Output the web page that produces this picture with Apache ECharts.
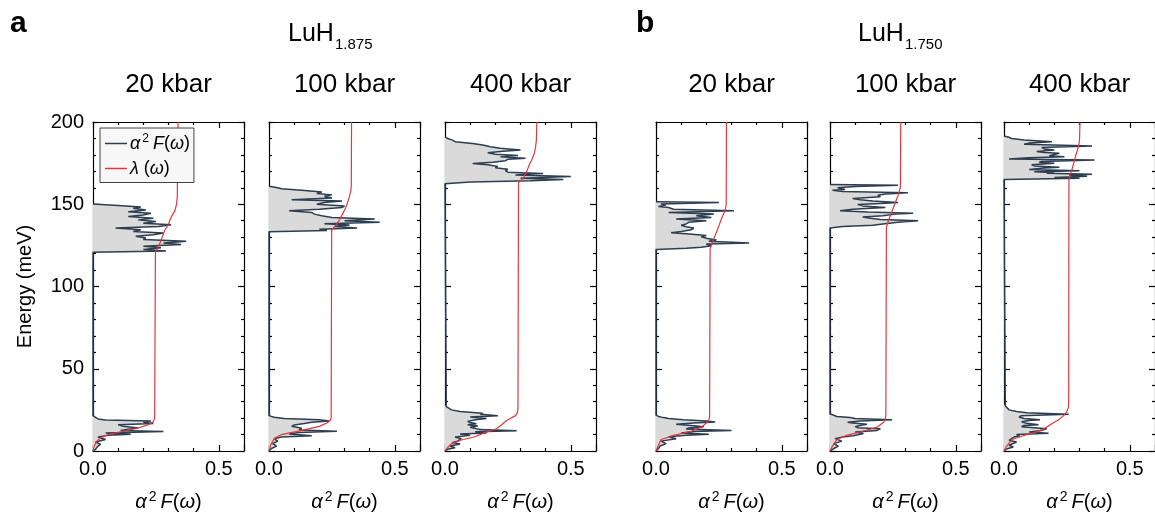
<!DOCTYPE html>
<html><head><meta charset="utf-8">
<script src="https://cdn.jsdelivr.net/npm/echarts@6/dist/echarts.min.js"></script>
<style>html,body{margin:0;padding:0;background:#fff}#c{width:1155px;height:512px}</style>
</head><body><div id="c"></div>
<script>
const FONT = '"Liberation Sans", Arial, Helvetica, sans-serif';

// ---------- labels ----------
const panelLetters = ['a', 'b'];
const compounds = [['LuH', '1.875'], ['LuH', '1.750']];
const pressureLabels = ['20 kbar', '100 kbar', '400 kbar', '20 kbar', '100 kbar', '400 kbar'];
const xTickValues = [0.0, 0.5];
const yTickValues = [0, 50, 100, 150, 200];
const yAxisTitle = 'Energy (meV)';

// ---------- data: [energy (meV), value] ----------
// LuH1.875, 20 kbar
const a2F_a20 = [[0,0],[1,0.01],[2,0.013],[3,0.02],[4,0.03],[5.5,0.01],[7,0.05],[8.5,0.02],[9.5,0.06],[10.2,0.15],[11,0.05],[11.8,0.28],[12.5,0.11],[13.3,0.14],[14,0.18],[15,0.12],[16,0.1],[16.7,0.24],[17.5,0.2],[18.2,0.23],[18.8,0.05],[19.5,0.02],[20.5,0.01],[21.5,0],
 [120.8,0],[121.6,0.29],[122.5,0.2],[123.5,0.27],[124.5,0.2],[125.5,0.35],[126.5,0.28],[127.5,0.37],[128.5,0.2],[129.5,0.21],[130.5,0.17],[131.5,0.24],[132.5,0.28],[133.5,0.16],[134.5,0.19],[135.5,0.09],[136.5,0.26],[137.5,0.31],[138.5,0.2],[139.5,0.25],[140.5,0.18],[141.5,0.24],[142.5,0.14],[143.5,0.2],[144.5,0.23],[145.5,0.14],[146.5,0.21],[147.5,0.16],[148.3,0.19],[149.2,0.1],[150.2,0]];
const lam_a20 = [[0,0],[3,0.005],[6,0.015],[8,0.03],[10,0.06],[12,0.12],[14,0.18],[16,0.22],[18,0.24],[20,0.245],[121,0.248],[123,0.255],[126,0.265],[130,0.275],[134,0.285],[138,0.3],[142,0.31],[146,0.325],[150,0.332],[155,0.335],[200,0.338]];

// LuH1.875, 100 kbar
const a2F_a100 = [[0,0],[1.5,0.01],[3,0.03],[4.5,0.015],[6,0.035],[7.5,0.02],[8.5,0.05],[9.3,0.17],[10.3,0.08],[11.2,0.12],[12,0.27],[12.8,0.12],[13.8,0.13],[15,0.09],[15.8,0.1],[16.7,0.14],[17.5,0.17],[18.3,0.24],[19,0.2],[19.7,0.06],[20.5,0.02],[21.5,0],
 [133.3,0],[134,0.23],[134.8,0.2],[135.6,0.35],[136.5,0.26],[137.4,0.32],[138.2,0.22],[139,0.44],[140,0.3],[141,0.42],[142,0.25],[143,0.21],[144,0.18],[145,0.17],[146,0.08],[147,0.2],[148,0.29],[149,0.3],[150,0.19],[151,0.22],[152,0.29],[152.8,0.09],[153.8,0.25],[154.8,0.22],[155.7,0.25],[156.6,0.19],[157.5,0.21],[158.5,0.13],[159.4,0.05],[160.2,0.03],[161,0]];
const lam_a100 = [[0,0],[3,0.005],[6,0.015],[8,0.025],[10,0.05],[12.5,0.13],[15,0.2],[17,0.23],[18.5,0.243],[20,0.247],[134,0.249],[136,0.258],[138,0.268],[141,0.282],[144,0.292],[147,0.302],[150,0.31],[154,0.318],[158,0.325],[161,0.327],[200,0.328]];

// LuH1.875, 400 kbar
const a2F_a400 = [[0,0],[1,0.01],[2,0.04],[3,0.02],[4.3,0.06],[5.2,0.03],[6,0.05],[7.5,0.065],[8.5,0.04],[9.5,0.1],[10.3,0.06],[11,0.165],[11.7,0.12],[12.3,0.285],[13,0.14],[13.7,0.145],[14.5,0.1],[15.2,0.13],[16,0.09],[16.6,0.125],[17.3,0.1],[18,0.09],[19,0.12],[19.8,0.165],[20.6,0.1],[21.5,0.21],[22.3,0.14],[23,0.15],[24,0.06],[25,0.025],[26,0.015],[27,0.005],[28,0],
 [162.5,0],[163.5,0.1],[164.3,0.34],[165,0.47],[165.8,0.3],[166.8,0.5],[167.8,0.28],[168.7,0.39],[169.5,0.25],[170.5,0.24],[171.3,0.25],[172.2,0.2],[173,0.21],[174,0.17],[174.8,0.11],[175.6,0.19],[176.5,0.24],[177.3,0.25],[178,0.32],[178.8,0.22],[179.6,0.29],[180.4,0.2],[181.3,0.17],[182.2,0.23],[183,0.3],[184,0.22],[185,0.18],[186,0.15],[187,0.11],[188,0.04],[189,0.03],[190,0.01],[191,0]];
const lam_a400 = [[0,0],[2,0.01],[4.3,0.025],[6.7,0.065],[8.5,0.115],[11.5,0.165],[13.5,0.205],[16,0.225],[18.5,0.245],[21.5,0.28],[23.5,0.288],[26,0.29],[163,0.292],[165,0.305],[167,0.315],[170,0.325],[174,0.335],[177,0.345],[181,0.355],[185,0.36],[189,0.363],[200,0.365]];

// LuH1.750, 20 kbar
const a2F_b20 = [[0,0],[1.5,0.01],[3,0.016],[4.5,0.04],[6,0.02],[7.5,0.08],[8.7,0.05],[9.5,0.12],[10.2,0.21],[11,0.1],[11.8,0.15],[12.5,0.3],[13.3,0.12],[14,0.13],[14.7,0.19],[15.5,0.14],[16.3,0.08],[17,0.15],[17.6,0.235],[18.3,0.2],[19,0.11],[19.7,0.05],[20.3,0.03],[21,0.01],[21.8,0],
 [122.5,0],[123.3,0.12],[123.8,0.18],[124.8,0.22],[125.8,0.2],[126.5,0.37],[127.5,0.21],[128.3,0.24],[129.3,0.2],[130.2,0.18],[131,0.2],[132,0.12],[132.7,0.06],[133.5,0.1],[134.5,0.14],[135.5,0.15],[136.3,0.12],[137.2,0.1],[138,0.12],[139,0.13],[140,0.2],[141,0.08],[142,0.22],[143,0.16],[144,0.23],[145,0.05],[146,0.31],[147,0.07],[148,0.05],[148.7,0.01],[149.5,0.04],[150.2,0.02],[151,0.25],[151.5,0]];
const lam_b20 = [[0,0],[3,0.008],[7,0.02],[9.5,0.07],[12,0.14],[14.5,0.18],[17,0.2],[19,0.21],[21,0.213],[123,0.215],[126,0.222],[130,0.232],[134,0.243],[137,0.25],[141,0.26],[146.5,0.275],[150,0.279],[200,0.28]];

// LuH1.750, 100 kbar
const a2F_b100 = [[0,0],[1.5,0.015],[3,0.033],[4.5,0.015],[6,0.047],[7.5,0.02],[8.5,0.05],[9.3,0.093],[10.6,0.133],[11.5,0.1],[12.5,0.187],[13.5,0.2],[14.2,0.11],[14.8,0.1],[15.5,0.12],[16.3,0.147],[17,0.09],[17.5,0.07],[18.3,0.12],[19,0.247],[19.7,0.1],[20.3,0.08],[21,0.027],[22,0.01],[22.5,0],
 [135.5,0],[136.5,0.05],[137.2,0.17],[138,0.21],[139,0.27],[140,0.35],[140.8,0.2],[141.5,0.16],[142.2,0.13],[143,0.21],[144,0.26],[144.5,0.33],[145.3,0.15],[146,0.04],[147,0.09],[148,0.22],[149,0.13],[149.8,0.11],[150.5,0.2],[151,0.27],[152,0.17],[152.8,0.12],[153.5,0.09],[154.5,0.2],[155.5,0.19],[156.3,0.22],[157,0.31],[157.8,0.05],[158.5,0.01],[159,0.06],[160,0.03],[160.8,0.1],[161.5,0.27],[162,0]];
const lam_b100 = [[0,0],[3,0.01],[7,0.027],[9.5,0.066],[12,0.13],[14.5,0.187],[17.5,0.213],[19.5,0.22],[22,0.222],[136,0.224],[140,0.232],[144,0.242],[148,0.252],[152,0.262],[156,0.272],[160,0.279],[163,0.28],[200,0.281]];

// LuH1.750, 400 kbar
const a2F_b400 = [[0,0],[1.2,0.01],[2.4,0.037],[3.5,0.02],[4.5,0.025],[5.5,0.05],[6.5,0.02],[7.5,0.03],[8.5,0.04],[9.3,0.063],[10,0.05],[10.8,0.177],[11.5,0.1],[12.3,0.143],[13.5,0.17],[14.8,0.07],[15.5,0.08],[16,0.137],[16.8,0.09],[17.8,0.07],[18.5,0.1],[19,0.143],[19.8,0.08],[20.7,0.06],[21.5,0.07],[22.3,0.257],[23.2,0.09],[24,0.05],[25,0.02],[26,0.015],[27.5,0.005],[28.5,0],
 [165,0],[165.8,0.3],[166.3,0.2],[167,0.33],[167.6,0.26],[168.2,0.35],[168.8,0.17],[169.3,0.2],[169.8,0.12],[170.4,0.3],[171.2,0.1],[172,0.16],[172.5,0.22],[173.3,0.12],[174,0.11],[174.9,0.2],[175.5,0.14],[176,0.15],[176.9,0.36],[177.5,0.02],[178.2,0.1],[178.9,0.24],[179.5,0.18],[180,0.18],[181,0.22],[181.5,0.16],[182,0.13],[183,0.2],[183.6,0.16],[184.5,0.15],[185.4,0.35],[186.4,0.08],[187.2,0.1],[188,0.19],[189,0.08],[190,0.03],[190.7,0.02],[191.5,0]];
const lam_b400 = [[0,0],[2.4,0.008],[4.8,0.02],[7.3,0.037],[9.3,0.077],[11,0.117],[13.3,0.157],[16.5,0.19],[19,0.217],[21.5,0.237],[24,0.25],[26.5,0.256],[30,0.257],[165,0.258],[168,0.263],[170,0.268],[175,0.277],[179,0.284],[182,0.29],[186,0.297],[189,0.3],[200,0.302]];

const spectra = [a2F_a20, a2F_a100, a2F_a400, a2F_b20, a2F_b100, a2F_b400];
const lambdas = [lam_a20, lam_a100, lam_a400, lam_b20, lam_b100, lam_b400];

// ---------- layout ----------
const panelLeft = [93, 269, 445, 656, 830, 1004];
const PW = 151, PT = 122, PH = 329;
const BLACK = '#000';
const LINE_C = '#2c3e50', LAM_C = '#e2373d', FILL_C = '#dadada';

function richSized(sz) {
  return {
    i: { fontStyle: 'italic', fontFamily: FONT, color: BLACK, fontSize: sz },
    n: { fontFamily: FONT, color: BLACK, fontSize: sz },
    s: { fontFamily: FONT, color: BLACK, fontSize: Math.round(sz * 0.68), padding: [0, Math.round(sz * 0.2), Math.round(sz * 0.5), Math.round(sz * 0.12)] }
  };
}
const a2FLabel = '{i|α}{s|2}{i|F}{n|(}{i|ω}{n|)}';
const lamLabel = '{i|λ}{n| (}{i|ω}{n|)}';

const grids = [], xAxes = [], yAxes = [], series = [];
const tickStyle = { color: BLACK, width: 1.2 };
panelLeft.forEach((L, i) => {
  grids.push({ left: L, top: PT, width: PW, height: PH, containLabel: false, outerBoundsMode: 'none' });
  const common = {
    gridIndex: i, type: 'value',
    axisLine: { show: true, onZero: false, lineStyle: { color: BLACK, width: 1.2 } },
    axisTick: { show: true, inside: true, length: 6, lineStyle: tickStyle },
    minorTick: { show: true, splitNumber: 5, length: 3, lineStyle: tickStyle },
    splitLine: { show: false }, minorSplitLine: { show: false }
  };
  xAxes.push(Object.assign({}, common, {
    min: 0, max: 0.6, interval: 0.5, position: 'bottom',
    axisLabel: { show: true, fontSize: 20, color: BLACK, fontFamily: FONT, margin: 8, showMaxLabel: false,
      formatter: v => (xTickValues.some(t => Math.abs(t - v) < 1e-9) ? v.toFixed(1) : '') },
    name: a2FLabel, nameLocation: 'middle', nameGap: 39,
    nameTextStyle: { fontSize: 20, color: BLACK, fontFamily: FONT, rich: richSized(20) }
  }));
  xAxes.push(Object.assign({}, common, {
    min: 0, max: 0.6, interval: 0.5, position: 'top', axisLabel: { show: false }
  }));
  yAxes.push(Object.assign({}, common, {
    min: 0, max: 200, interval: 50, position: 'left',
    axisLabel: { show: i === 0, fontSize: 20, color: BLACK, fontFamily: FONT, margin: 9,
      formatter: v => (yTickValues.indexOf(v) >= 0 ? String(v) : '') },
    name: i === 0 ? yAxisTitle : '', nameLocation: 'middle', nameGap: 58,
    nameTextStyle: { fontSize: 20, color: BLACK, fontFamily: FONT }
  }));
  yAxes.push(Object.assign({}, common, {
    min: 0, max: 200, interval: 50, position: 'right', axisLabel: { show: false }
  }));

  const spec = spectra[i];
  series.push({
    type: 'custom', name: 'fill', xAxisIndex: 2 * i, yAxisIndex: 2 * i, z: 1, silent: true,
    data: [[0, 0]],
    renderItem: (params, api) => {
      const pts = [api.coord([0, spec[0][0]])];
      spec.forEach(p => pts.push(api.coord([p[1], p[0]])));
      pts.push(api.coord([0, spec[spec.length - 1][0]]));
      return { type: 'polygon', shape: { points: pts }, style: { fill: FILL_C } };
    }
  });
  series.push({
    type: 'line', name: 'a2F', xAxisIndex: 2 * i, yAxisIndex: 2 * i, z: 2,
    symbol: 'none', silent: true, animation: false,
    lineStyle: { color: LINE_C, width: 1.5 }, itemStyle: { color: LINE_C },
    data: spec.map(p => [p[1], p[0]])
  });
  series.push({
    type: 'line', name: 'lambda', xAxisIndex: 2 * i, yAxisIndex: 2 * i, z: 3,
    symbol: 'none', silent: true, animation: false,
    lineStyle: { color: LAM_C, width: 1.2 }, itemStyle: { color: LAM_C },
    data: lambdas[i].map(p => [p[1], p[0]])
  });
});

const graphics = [];
[0, 1].forEach(g => {
  graphics.push({ type: 'text', x: g === 0 ? 10 : 636, y: 39,
    style: { text: panelLetters[g], fontSize: 30, fontWeight: 'bold', fontFamily: FONT, fill: BLACK, verticalAlign: 'bottom' } });
  const lx = g === 0 ? 288 : 858;
  graphics.push({ type: 'text', x: lx, y: 47,
    style: { text: compounds[g][0], fontSize: 25, fontFamily: FONT, fill: BLACK, verticalAlign: 'bottom' } });
  graphics.push({ type: 'text', x: lx + 47, y: 52,
    style: { text: compounds[g][1], fontSize: 15, fontFamily: FONT, fill: BLACK, verticalAlign: 'bottom' } });
});
pressureLabels.forEach((t, i) => {
  graphics.push({ type: 'text', x: panelLeft[i] + PW / 2, y: 85,
    style: { text: t, fontSize: 26, fontFamily: FONT, fill: BLACK, align: 'center', verticalAlign: 'middle' } });
});

const chart = echarts.init(document.getElementById('c'), null, { renderer: 'canvas' });
chart.setOption({
  animation: false,
  backgroundColor: '#fff',
  grid: grids, xAxis: xAxes, yAxis: yAxes, series: series,
  graphic: graphics,
  legend: {
    data: ['a2F', 'lambda'], orient: 'vertical', left: 100, top: 128,
    icon: 'rect', itemWidth: 22, itemHeight: 1.5, itemGap: 7, padding: [5, 4, 5, 5],
    backgroundColor: '#f7f7f7', borderColor: '#444', borderWidth: 1,
    selectedMode: false,
    formatter: n => (n === 'a2F' ? a2FLabel : lamLabel),
    textStyle: { fontSize: 18, color: BLACK, fontFamily: FONT, padding: [0, 0, 0, -2], rich: richSized(18) }
  }
});
</script></body></html>
